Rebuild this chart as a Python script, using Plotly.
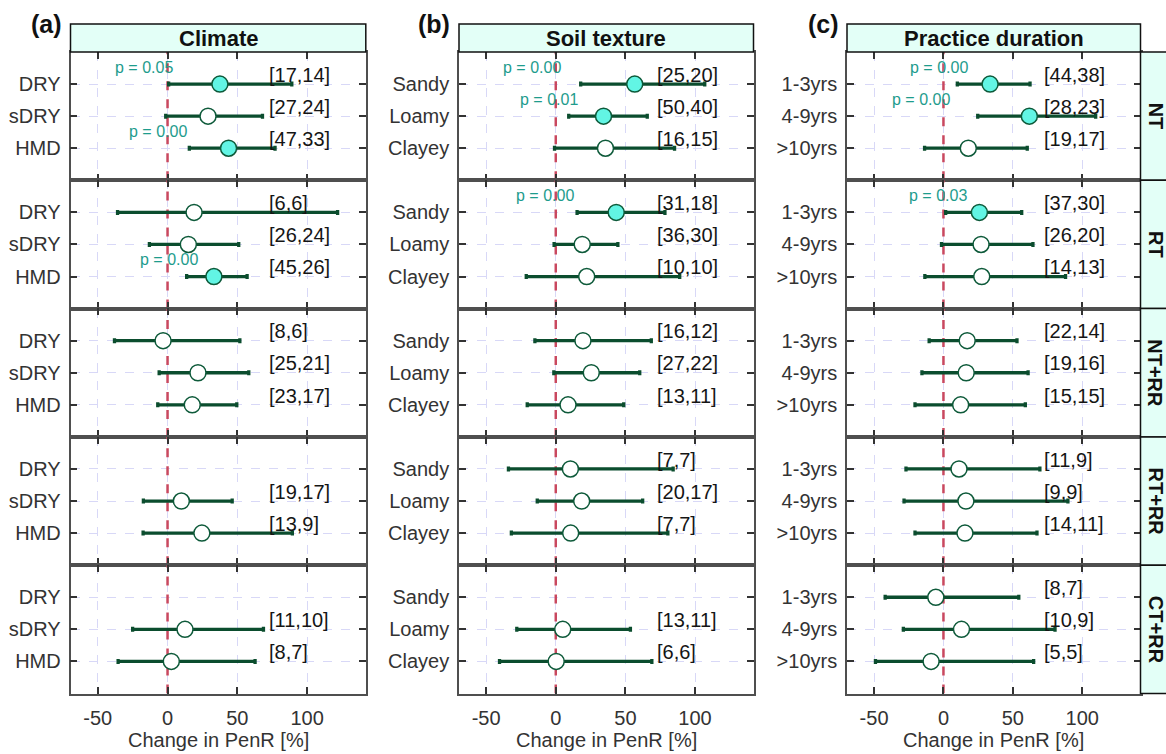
import plotly.graph_objects as go

# ---------------- data ----------------
practices = ["NT", "RT", "NT+RR", "RT+RR", "CT+RR"]
panel_titles = ["Climate", "Soil texture", "Practice duration"]
panel_tags = ["(a)", "(b)", "(c)"]

climate_cats = ["DRY", "sDRY", "HMD"]
climate_mean = [[37.5, 29, 43.7], [19, 14.9, 33.2], [-3.2, 21.8, 17.7], [None, 9.9, 24.6], [None, 12.5, 2.7]]
climate_lo = [[0.8, -1.3, 15.6], [-35.8, -13, 13.7], [-38, -6, -7], [None, -17.3, -17.5], [None, -25, -35.4]]
climate_hi = [[89, 68, 77], [121.8, 51, 57], [51.8, 58.2, 49.6], [None, 46.3, 89.4], [None, 68.7, 62.7]]
climate_sig = [[1, 0, 1], [0, 0, 1], [0, 0, 0], [0, 0, 0], [0, 0, 0]]
climate_n = [["[17,14]", "[27,24]", "[47,33]"], ["[6,6]", "[26,24]", "[45,26]"],
             ["[8,6]", "[25,21]", "[23,17]"], [None, "[19,17]", "[13,9]"], [None, "[11,10]", "[8,7]"]]
climate_p = [["p = 0.05", None, "p = 0.00"], [None, None, "p = 0.00"], [None, None, None],
             [None, None, None], [None, None, None]]
climate_px = [[-16.6, None, -6.8], [None, None, 0.8], [None, None, None], [None, None, None], [None, None, None]]

soil_cats = ["Sandy", "Loamy", "Clayey"]
soil_mean = [[56.7, 34.3, 35.7], [43.4, 19, 22.2], [19.5, 25.5, 8.8], [10.5, 18.6, 10.7], [None, 5, 0.3]]
soil_lo = [[17.9, 9.3, -0.9], [15.3, -1.2, -21.2], [-15, -1.4, -20.5], [-34, -13.3, -31.9], [None, -28, -40.4]]
soil_hi = [[107, 65.7, 85.3], [78.4, 44.6, 89], [68.6, 60.3, 48.8], [84.3, 62.4, 80.5], [None, 53.6, 69]]
soil_sig = [[1, 1, 0], [1, 0, 0], [0, 0, 0], [0, 0, 0], [0, 0, 0]]
soil_n = [["[25,20]", "[50,40]", "[16,15]"], ["[31,18]", "[36,30]", "[10,10]"],
          ["[16,12]", "[27,22]", "[13,11]"], ["[7,7]", "[20,17]", "[7,7]"], [None, "[13,11]", "[6,6]"]]
soil_p = [["p = 0.00", "p = 0.01", None], ["p = 0.00", None, None], [None, None, None],
          [None, None, None], [None, None, None]]
soil_px = [[-17.4, -5.2, None], [-7.5, None, None], [None, None, None], [None, None, None], [None, None, None]]

dur_cats = ["1-3yrs", "4-9yrs", ">10yrs"]
dur_mean = [[33.6, 61.9, 17.9], [25.9, 27.1, 27.6], [17.1, 16.4, 12.4], [11.2, 16.2, 15.5], [-5.5, 13, -8.9]]
dur_lo = [[10, 24.7, -13.6], [1.6, -1.4, -13.4], [-10.3, -15.5, -20.5], [-27, -28.4, -20.5], [-42, -28.9, -49]]
dur_hi = [[62.4, 109.7, 60.4], [56.4, 64.5, 88], [53, 61, 59], [69.5, 89.7, 67.4], [54.3, 80.4, 65]]
dur_sig = [[1, 1, 0], [1, 0, 0], [0, 0, 0], [0, 0, 0], [0, 0, 0]]
dur_n = [["[44,38]", "[28,23]", "[19,17]"], ["[37,30]", "[26,20]", "[14,13]"],
         ["[22,14]", "[19,16]", "[15,15]"], ["[11,9]", "[9,9]", "[14,11]"], ["[8,7]", "[10,9]", "[5,5]"]]
dur_p = [["p = 0.00", "p = 0.00", None], ["p = 0.03", None, None], [None, None, None],
         [None, None, None], [None, None, None]]
dur_px = [[-2.9, -16, None], [-3.8, None, None], [None, None, None], [None, None, None], [None, None, None]]

x_ticks = [-50, 0, 50, 100]
x_title = "Change in PenR [%]"
ref_x = 0  # no-effect reference line

columns = [
    (climate_cats, climate_mean, climate_lo, climate_hi, climate_sig, climate_n, climate_p, climate_px),
    (soil_cats, soil_mean, soil_lo, soil_hi, soil_sig, soil_n, soil_p, soil_px),
    (dur_cats, dur_mean, dur_lo, dur_hi, dur_sig, dur_n, dur_p, dur_px),
]

# ---------------- style / geometry ----------------
W, H = 1166, 754
FONT = "Arial, Liberation Sans, sans-serif"
col_px = [(70.5, 365.8), (459, 753.5), (847, 1140.5)]
top_px, bot_px = 52, 693.5
row_h = (bot_px - top_px) / 5
strip_top = 24
XR = [-69.5, 142]
YR = [4, 0]

C_FILL_SIG = "#62F5E4"
C_EDGE = "#0E5A3A"
C_ERR = "#0B4D2E"
C_P = "#1E9C8D"
C_ZERO = "#C9485F"
C_GRID = "#D8D8F7"
C_BORDER = "#4F4F4F"
C_STRIP = "#E3FFF7"


def px2x(p):
    return p / W


def px2y(p):
    return 1 - p / H


fig = go.Figure()
layout = {}
annotations = []
shapes = []

idx = 0
for c, (cats, mean, lo, hi, sig, nlab, plab, pxs) in enumerate(columns):
    for r in range(5):
        idx += 1
        sx = "" if idx == 1 else str(idx)
        xref, yref = "x" + sx, "y" + sx
        x0p, x1p = col_px[c]
        y0p = top_px + r * row_h
        y1p = y0p + row_h
        layout["xaxis" + sx] = dict(
            domain=[px2x(x0p), px2x(x1p)], anchor=yref, range=XR, automargin=False,
            tickvals=x_ticks, ticktext=[str(v) for v in x_ticks],
            showticklabels=(r == 4), ticks="inside", ticklen=7, tickwidth=1.5,
            tickcolor="#333333", mirror="ticks", showline=True, linecolor=C_BORDER,
            linewidth=1.6, showgrid=True, gridcolor=C_GRID, griddash="dash", gridwidth=1,
            zeroline=False, tickfont=dict(family=FONT, size=20, color="#333333"),
            ticklabelstandoff=6,
        )
        layout["yaxis" + sx] = dict(
            domain=[px2y(y1p), px2y(y0p)], anchor=xref, range=YR, automargin=False,
            tickvals=[1, 2, 3], ticktext=cats, ticks="inside", ticklen=7, tickwidth=1.5,
            tickcolor="#333333", mirror="ticks", showline=True, linecolor=C_BORDER,
            linewidth=1.6, showgrid=True, gridcolor=C_GRID, griddash="dash", gridwidth=1,
            zeroline=False, tickfont=dict(family=FONT, size=20, color="#333333"),
            ticklabelstandoff=4,
        )
        # zero reference line (drawn first so it sits under the bars)
        fig.add_trace(go.Scatter(
            x=[ref_x, ref_x], y=YR, mode="lines", xaxis=xref, yaxis=yref, showlegend=False,
            hoverinfo="skip", line=dict(color=C_ZERO, width=2.5, dash="dash"),
        ))
        xs, ys, ep, em, fills = [], [], [], [], []
        for i in range(3):
            m = mean[r][i]
            if m is None:
                continue
            xs.append(m)
            ys.append(i + 1)
            ep.append(hi[r][i] - m)
            em.append(m - lo[r][i])
            fills.append(C_FILL_SIG if sig[r][i] else "white")
        fig.add_trace(go.Scatter(
            x=xs, y=ys, mode="markers", xaxis=xref, yaxis=yref, showlegend=False,
            marker=dict(size=16, color=fills, line=dict(color=C_EDGE, width=1.5)),
            error_x=dict(type="data", array=ep, arrayminus=em, symmetric=False,
                         color=C_ERR, thickness=3.3, width=2.5),
        ))
        for i in range(3):
            if nlab[r][i]:
                annotations.append(dict(xref=xref, yref=yref, x=71, y=i + 1 - 0.29, text=nlab[r][i],
                                        showarrow=False, xanchor="left", yanchor="middle",
                                        font=dict(family=FONT, size=20, color="#151515")))
            if plab[r][i]:
                annotations.append(dict(xref=xref, yref=yref, x=pxs[r][i], y=i + 1 - 0.53, text=plab[r][i],
                                        showarrow=False, xanchor="center", yanchor="middle",
                                        font=dict(family=FONT, size=16, color=C_P)))

    # column header strip
    x0p, x1p = col_px[c]
    shapes.append(dict(type="rect", xref="paper", yref="paper", x0=px2x(x0p), x1=px2x(x1p),
                       y0=px2y(top_px), y1=px2y(strip_top), fillcolor=C_STRIP,
                       line=dict(color="#111111", width=1.5)))
    annotations.append(dict(xref="paper", yref="paper", x=px2x((x0p + x1p) / 2), y=px2y((top_px + strip_top) / 2),
                            text="<b>%s</b>" % panel_titles[c], showarrow=False, xanchor="center", yanchor="middle",
                            font=dict(family=FONT, size=22, color="#111111")))
    # panel tag
    tag_x = [46, 434, 823][c]
    annotations.append(dict(xref="paper", yref="paper", x=px2x(tag_x), y=px2y(24), text="<b>%s</b>" % panel_tags[c],
                            showarrow=False, xanchor="center", yanchor="middle",
                            font=dict(family=FONT, size=25, color="#111111")))
    # x axis title
    annotations.append(dict(xref="paper", yref="paper", x=px2x((x0p + x1p) / 2), y=px2y(740), text=x_title,
                            showarrow=False, xanchor="center", yanchor="middle",
                            font=dict(family=FONT, size=20, color="#333333")))

# right-hand row strips
for r, name in enumerate(practices):
    y0p = top_px + r * row_h
    y1p = y0p + row_h
    shapes.append(dict(type="rect", xref="paper", yref="paper", x0=px2x(1140.5), x1=1.05,
                       y0=px2y(y1p), y1=px2y(y0p), fillcolor=C_STRIP,
                       line=dict(color="#111111", width=1.5)))
    annotations.append(dict(xref="paper", yref="paper", x=px2x(1155.5), y=px2y((y0p + y1p) / 2),
                            text="<b>%s</b>" % name, showarrow=False, textangle=90,
                            xanchor="center", yanchor="middle",
                            font=dict(family=FONT, size=20, color="#111111")))

fig.update_layout(
    width=W, height=H, margin=dict(l=0, r=0, t=0, b=0),
    paper_bgcolor="white", plot_bgcolor="white",
    annotations=annotations, shapes=shapes, **layout,
)

fig.write_html("out.html", config={"displayModeBar": False},
               post_script="document.body.style.margin='0';document.body.style.overflow='hidden';")
